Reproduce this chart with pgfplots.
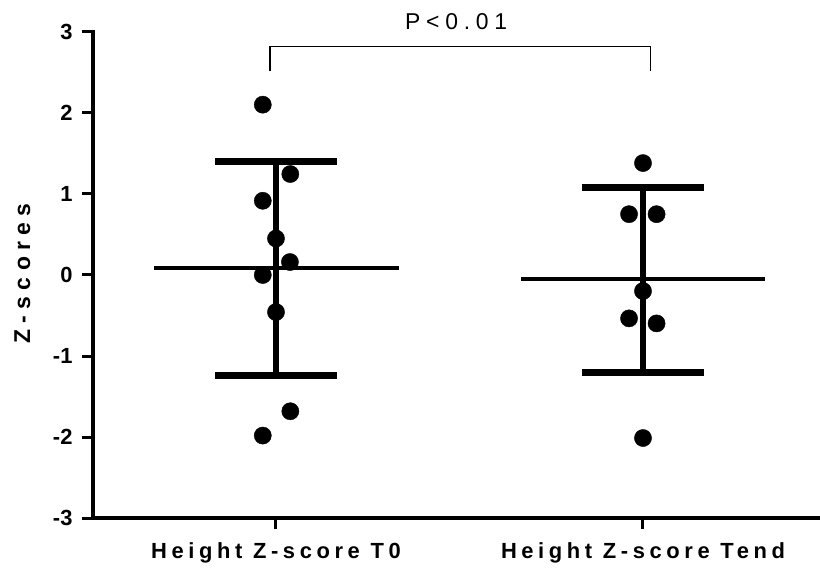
\documentclass[border=0pt]{standalone}
\usepackage{fontspec}
\setmainfont{Liberation Sans}
\newfontfamily\spacedX[LetterSpace=21]{Liberation Sans}
\newfontfamily\spacedY[LetterSpace=28]{Liberation Sans}
\newfontfamily\spacedP[LetterSpace=25]{Liberation Sans}
\newcommand\yt[1]{{\fontsize{22}{22}\selectfont\bfseries #1}}
\usepackage{pgfplots}
\pgfplotsset{compat=1.18}
\begin{document}
\begin{tikzpicture}
\useasboundingbox (0,0) rectangle (820bp,572bp);
\begin{axis}[
  at={(93bp,53.7bp)}, anchor=south west,
  scale only axis, width=727bp, height=486.6bp,
  xmin=-0.4986, xmax=1.4823, ymin=-3, ymax=3,
  axis x line*=bottom, axis y line*=left,
  axis line style={line width=4bp, -, line cap=rect},
  xtick={0,1},
  xticklabels={Height Z-score T0, Height Z-score Tend},
  ytick={-3,-2,-1,0,1,2,3},
  yticklabels={\yt{-3},\yt{-2},\yt{-1},\yt{0},\yt{1},\yt{2},\yt{3}},
  tick align=outside, major tick length=11bp,
  tick style={line width=3bp, black},
  y tick label style={font=\fontsize{22}{22}\selectfont\bfseries, xshift=-6bp},
  xticklabel style={font=\fontsize{22}{22}\selectfont\spacedX\bfseries, yshift=-10bp},
  ylabel={Z-scores},
  ylabel style={font=\fontsize{23}{23}\selectfont\spacedY\bfseries, at={(axis description cs:-0.097,0.503)}, anchor=center},
  clip=false,
]
% bracket
\addplot[black, line width=1.3bp] coordinates {(-0.016,2.51) (-0.016,2.82) (1.021,2.82) (1.021,2.51)};
\node[font=\fontsize{23}{23}\selectfont\spacedP, anchor=base] at (axis cs:0.491,3.025) {P<0.01};
% mean lines
\addplot[black, line width=3.7bp] coordinates {(-0.333,0.09) (0.335,0.09)};
\addplot[black, line width=3.7bp] coordinates {(0.667,-0.053) (1.333,-0.053)};
% error bars
\addplot[black, line width=6.7bp] coordinates {(0,-1.234) (0,1.399)};
\addplot[black, line width=7bp] coordinates {(-0.166,1.399) (0.166,1.399)};
\addplot[black, line width=7bp] coordinates {(-0.166,-1.234) (0.166,-1.234)};
\addplot[black, line width=6.7bp] coordinates {(1,-1.199) (1,1.075)};
\addplot[black, line width=7bp] coordinates {(0.834,1.075) (1.166,1.075)};
\addplot[black, line width=7bp] coordinates {(0.834,-1.199) (1.166,-1.199)};
% points
\addplot[only marks, mark=*, mark size=8.6bp, black] coordinates {
(-0.036,2.10) (0.039,1.245) (-0.036,0.915) (0,0.45) (0.038,0.16)
(-0.036,0.0) (0,-0.457) (0.039,-1.68) (-0.036,-1.98)};
\addplot[only marks, mark=*, mark size=8.6bp, black] coordinates {
(1,1.38) (0.962,0.75) (1.037,0.75) (1,-0.198) (0.962,-0.535)
(1.037,-0.597) (1,-2.01)};
\end{axis}
\end{tikzpicture}
\end{document}
